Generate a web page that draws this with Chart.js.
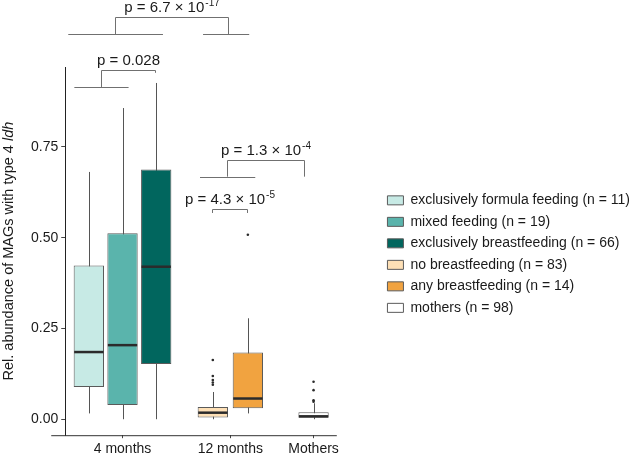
<!DOCTYPE html>
<html>
<head>
<meta charset="utf-8">
<script src="https://cdn.jsdelivr.net/npm/chart.js@4.4.1/dist/chart.umd.min.js"></script>
<style>
  html, body { margin: 0; padding: 0; background: #fff; }
  #wrap { width: 640px; height: 454px; position: relative; }
</style>
</head>
<body>
<div id="wrap"><canvas id="chart"></canvas></div>
<script>
// --- Data ---
const timePoints = ['4 months', '12 months', 'Mothers'];
const seriesLabels = [
  'exclusively formula feeding (n = 11)',
  'mixed feeding (n = 19)',
  'exclusively breastfeeding (n = 66)',
  'no breastfeeding (n = 83)',
  'any breastfeeding (n = 14)',
  'mothers (n = 98)'
];
const seriesTimePoint = [0, 0, 0, 1, 1, 2];
const whiskerLow  = [0.016, 0.000, 0.000, 0.000, 0.016, 0.000];
const lowerQuart  = [0.089, 0.039, 0.152, 0.005, 0.030, 0.004];
const medians     = [0.185, 0.204, 0.420, 0.018, 0.057, 0.008];
const upperQuart  = [0.423, 0.512, 0.688, 0.034, 0.184, 0.019];
const whiskerHigh = [0.681, 0.857, 0.926, 0.075, 0.278, 0.044];
const outliers = [
  [],
  [],
  [],
  [0.163, 0.119, 0.108, 0.101, 0.095],
  [0.508],
  [0.103, 0.080, 0.052, 0.048]
];
const yTicks = [0, 0.25, 0.5, 0.75];
// p-value labels: text + superscript exponent
const pLabels = [
  ['p = 6.7 \u00d7 10', '-17'],
  ['p = 0.028', ''],
  ['p = 1.3 \u00d7 10', '-4'],
  ['p = 4.3 \u00d7 10', '-5']
];

// --- Layout / style ---
const FONT = "'Liberation Sans', Arial, Helvetica, sans-serif";
const TEXT = '#1a1a1a';
const timePointX = [1.70, 4.90, 7.37];
const dodgeOffset = [-1, 0, 1, -0.52, 0.52, 0];
const fills = ['#c7eae5', '#5ab4ac', '#01665e', '#fee0b6', '#f1a340', '#ffffff'];
const xAxisEnd = 8.06;
// significance brackets in data units (x = axis position, y = abundance)
const brackets = [
  { label: 0, legs: [1.49, 4.84], top: 1.107, feet: [1.060, 1.060], bases: [[0.09, 2.90], [4.09, 5.46]] },
  { label: 1, legs: [1.07, 2.66], top: 0.962, feet: [0.915, 0.954], bases: [[0.27, 1.88]] },
  { label: 2, legs: [4.81, 7.10], top: 0.715, feet: [0.668, 0.668], bases: [[4.00, 5.64]] },
  { label: 3, legs: [4.36, 5.40], top: 0.578, feet: [0.568, 0.568], bases: [] }
];

Chart.defaults.font.family = FONT;
Chart.defaults.font.size = 14;
Chart.defaults.color = TEXT;

function boxX(i) {
  return timePointX[seriesTimePoint[i]] + dodgeOffset[i];
}

function drawPValue(ctx, cx, baseline, main, exp) {
  ctx.font = '15px ' + FONT;
  const w1 = ctx.measureText(main).width;
  ctx.font = '10px ' + FONT;
  const w2 = exp ? ctx.measureText(exp).width + 1 : 0;
  const x = cx - (w1 + w2) / 2;
  ctx.fillStyle = TEXT;
  ctx.textAlign = 'left';
  ctx.textBaseline = 'alphabetic';
  ctx.font = '15px ' + FONT;
  ctx.fillText(main, x, baseline);
  if (exp) {
    ctx.font = '10px ' + FONT;
    ctx.fillText(exp, x + w1 + 1, baseline - 6);
  }
}

function drawYTitle(ctx, area) {
  const a = 'Rel. abundance of MAGs with type 4 ';
  const b = 'ldh';
  const normal = '14.5px ' + FONT;
  const italic = 'italic 14.5px ' + FONT;
  ctx.save();
  ctx.translate(9, (area.top + area.bottom) / 2);
  ctx.rotate(-Math.PI / 2);
  ctx.font = normal;
  const wa = ctx.measureText(a).width;
  ctx.font = italic;
  const wb = ctx.measureText(b).width;
  const x = -(wa + wb) / 2;
  ctx.fillStyle = TEXT;
  ctx.textBaseline = 'middle';
  ctx.textAlign = 'left';
  ctx.font = normal;
  ctx.fillText(a, x, 0);
  ctx.font = italic;
  ctx.fillText(b, x + wa, 0);
  ctx.restore();
}

// whiskers, medians, brackets, axis line and y title
const boxPlotParts = {
  id: 'boxPlotParts',
  beforeDatasetsDraw(chart) {
    const { ctx, scales: { x, y } } = chart;
    ctx.save();
    ctx.strokeStyle = '#555';
    ctx.lineWidth = 1;
    seriesLabels.forEach((_, i) => {
      const px = Math.round(x.getPixelForValue(boxX(i))) + 0.5;
      ctx.beginPath();
      ctx.moveTo(px, y.getPixelForValue(whiskerLow[i]));
      ctx.lineTo(px, y.getPixelForValue(whiskerHigh[i]));
      ctx.stroke();
    });
    ctx.restore();
  },
  afterDatasetsDraw(chart) {
    const { ctx, scales: { x, y } } = chart;
    ctx.save();
    ctx.strokeStyle = '#2b2b2b';
    ctx.lineWidth = 2.5;
    seriesLabels.forEach((_, i) => {
      const bar = chart.getDatasetMeta(i).data[0];
      const px = x.getPixelForValue(boxX(i));
      const py = y.getPixelForValue(medians[i]);
      ctx.beginPath();
      ctx.moveTo(px - bar.width / 2 + 0.5, py);
      ctx.lineTo(px + bar.width / 2 - 0.5, py);
      ctx.stroke();
    });
    ctx.restore();
  },
  afterDraw(chart) {
    const { ctx, chartArea, scales: { x, y } } = chart;
    ctx.save();
    // x axis line (sticks out left of the y axis)
    ctx.strokeStyle = '#333';
    ctx.lineWidth = 1;
    ctx.beginPath();
    ctx.moveTo(chartArea.left - 14, chartArea.bottom + 0.5);
    ctx.lineTo(x.getPixelForValue(xAxisEnd), chartArea.bottom + 0.5);
    ctx.stroke();

    // significance brackets
    ctx.strokeStyle = '#707070';
    brackets.forEach(b => {
      const l = Math.round(x.getPixelForValue(b.legs[0])) + 0.5;
      const r = Math.round(x.getPixelForValue(b.legs[1])) + 0.5;
      const t = Math.round(y.getPixelForValue(b.top)) + 0.5;
      ctx.beginPath();
      ctx.moveTo(l, y.getPixelForValue(b.feet[0]));
      ctx.lineTo(l, t);
      ctx.lineTo(r, t);
      ctx.lineTo(r, y.getPixelForValue(b.feet[1]));
      ctx.stroke();
      b.bases.forEach(([x0, x1]) => {
        const by = Math.round(y.getPixelForValue(b.feet[0])) + 0.5;
        ctx.beginPath();
        ctx.moveTo(x.getPixelForValue(x0), by);
        ctx.lineTo(x.getPixelForValue(x1), by);
        ctx.stroke();
      });
      const [main, exp] = pLabels[b.label];
      drawPValue(ctx, (l + r) / 2, t - 6, main, exp);
    });
    ctx.restore();

    drawYTitle(ctx, chartArea);
  }
};

const boxDatasets = seriesLabels.map((label, i) => ({
  type: 'bar',
  label: label,
  data: [{ x: boxX(i), y: [lowerQuart[i], upperQuart[i]] }],
  backgroundColor: fills[i],
  borderColor: '#5a5a5a',
  borderWidth: 1,
  borderSkipped: false,
  grouped: false,
  barPercentage: 0.9,
  categoryPercentage: 1,
  order: 2
}));

const outlierDatasets = outliers.map((vals, i) => ({
  type: 'scatter',
  label: 'outliers ' + i,
  data: vals.map(v => ({ x: boxX(i), y: v })),
  pointRadius: 1.3,
  pointBackgroundColor: '#2b2b2b',
  pointBorderWidth: 0,
  order: 1
}));

new Chart(document.getElementById('chart'), {
  type: 'bar',
  data: { datasets: boxDatasets.concat(outlierDatasets) },
  options: {
    responsive: true,
    maintainAspectRatio: false,
    animation: false,
    layout: { padding: { top: 67, left: 28, right: 0, bottom: -7 } },
    scales: {
      x: {
        type: 'linear',
        min: 0,
        max: 9.34,
        offset: false,
        border: { display: false },
        grid: { drawOnChartArea: false, offset: false, tickLength: 3, color: '#444' },
        afterBuildTicks: scale => { scale.ticks = timePointX.map(v => ({ value: v })); },
        ticks: {
          padding: 3,
          autoSkip: false,
          maxRotation: 0,
          color: TEXT,
          font: { size: 14 },
          callback: (v, i) => timePoints[i]
        }
      },
      y: {
        min: -0.044,
        max: 0.97,
        border: { display: true, color: '#222', width: 1 },
        grid: { drawOnChartArea: false, tickLength: 4, color: '#444' },
        afterBuildTicks: scale => { scale.ticks = yTicks.map(v => ({ value: v })); },
        ticks: {
          padding: 3,
          color: TEXT,
          font: { size: 14 },
          callback: v => v.toFixed(2)
        }
      }
    },
    plugins: {
      legend: {
        position: 'right',
        fullSize: false,
        maxWidth: 280,
        title: { display: true, text: '', padding: 0, font: { size: 5, lineHeight: 1.2 } },
        labels: {
          boxWidth: 16,
          boxHeight: 9,
          padding: 7.5,
          color: TEXT,
          font: { size: 14 },
          filter: item => item.datasetIndex < seriesLabels.length
        }
      },
      tooltip: { enabled: false }
    }
  },
  plugins: [boxPlotParts]
});
</script>
</body>
</html>
